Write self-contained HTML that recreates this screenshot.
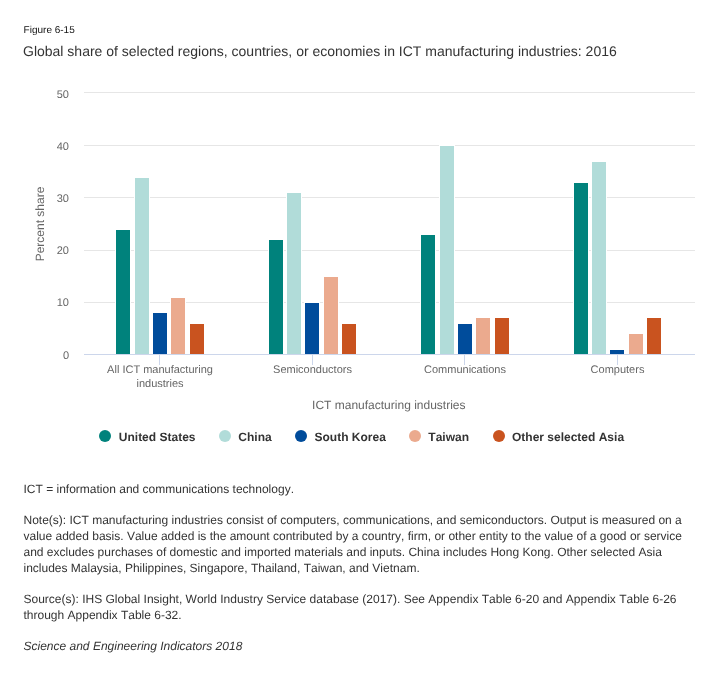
<!DOCTYPE html>
<html><head><meta charset="utf-8"><style>
html,body{margin:0;padding:0;background:#fff;}
body{width:724px;height:677px;position:relative;overflow:hidden;will-change:transform;text-rendering:geometricPrecision;font-kerning:none;font-family:"Liberation Sans",sans-serif;}
.a{position:absolute;white-space:nowrap;line-height:16px;}
.yl{position:absolute;right:655px;font-size:11px;color:#666;line-height:16px;margin-top:-6px;white-space:nowrap;}
.lg{position:absolute;top:429.3px;font-size:12px;font-weight:bold;color:#333;line-height:16px;white-space:nowrap;}
.nt{position:absolute;left:23.5px;font-size:12px;color:#333;line-height:16px;white-space:nowrap;}
.xl{position:absolute;font-size:11px;color:#666;line-height:14px;text-align:center;white-space:nowrap;}
</style></head><body>
<div class="a" style="left:23.6px;top:23px;font-size:10px;color:#111;">Figure 6-15</div>
<div class="a" style="left:23px;top:42px;font-size:14px;color:#333;line-height:18px;">Global share of selected regions, countries, or economies in ICT manufacturing industries: 2016</div>
<svg width="724" height="677" style="position:absolute;left:0;top:0">
<rect x="84" y="92" width="611" height="1" fill="#e6e6e6"/>
<rect x="84" y="145" width="611" height="1" fill="#e6e6e6"/>
<rect x="84" y="197" width="611" height="1" fill="#e6e6e6"/>
<rect x="84" y="250" width="611" height="1" fill="#e6e6e6"/>
<rect x="84" y="302" width="611" height="1" fill="#e6e6e6"/>
<rect x="115" y="229" width="16" height="125" fill="#fff"/><rect x="116" y="230" width="14" height="124" fill="#00827c"/>
<rect x="134" y="177" width="16" height="177" fill="#fff"/><rect x="135" y="178" width="14" height="176" fill="#b1dcd9"/>
<rect x="152" y="312" width="16" height="42" fill="#fff"/><rect x="153" y="313" width="14" height="41" fill="#004c9b"/>
<rect x="170" y="297" width="16" height="57" fill="#fff"/><rect x="171" y="298" width="14" height="56" fill="#ebaa8e"/>
<rect x="189" y="323" width="16" height="31" fill="#fff"/><rect x="190" y="324" width="14" height="30" fill="#c9531f"/>
<rect x="268" y="239" width="16" height="115" fill="#fff"/><rect x="269" y="240" width="14" height="114" fill="#00827c"/>
<rect x="286" y="192" width="16" height="162" fill="#fff"/><rect x="287" y="193" width="14" height="161" fill="#b1dcd9"/>
<rect x="304" y="302" width="16" height="52" fill="#fff"/><rect x="305" y="303" width="14" height="51" fill="#004c9b"/>
<rect x="323" y="276" width="16" height="78" fill="#fff"/><rect x="324" y="277" width="14" height="77" fill="#ebaa8e"/>
<rect x="341" y="323" width="16" height="31" fill="#fff"/><rect x="342" y="324" width="14" height="30" fill="#c9531f"/>
<rect x="420" y="234" width="16" height="120" fill="#fff"/><rect x="421" y="235" width="14" height="119" fill="#00827c"/>
<rect x="439" y="145" width="16" height="209" fill="#fff"/><rect x="440" y="146" width="14" height="208" fill="#b1dcd9"/>
<rect x="457" y="323" width="16" height="31" fill="#fff"/><rect x="458" y="324" width="14" height="30" fill="#004c9b"/>
<rect x="475" y="317" width="16" height="37" fill="#fff"/><rect x="476" y="318" width="14" height="36" fill="#ebaa8e"/>
<rect x="494" y="317" width="16" height="37" fill="#fff"/><rect x="495" y="318" width="14" height="36" fill="#c9531f"/>
<rect x="573" y="182" width="16" height="172" fill="#fff"/><rect x="574" y="183" width="14" height="171" fill="#00827c"/>
<rect x="591" y="161" width="16" height="193" fill="#fff"/><rect x="592" y="162" width="14" height="192" fill="#b1dcd9"/>
<rect x="609" y="349" width="16" height="5" fill="#fff"/><rect x="610" y="350" width="14" height="4" fill="#004c9b"/>
<rect x="628" y="333" width="16" height="21" fill="#fff"/><rect x="629" y="334" width="14" height="20" fill="#ebaa8e"/>
<rect x="646" y="317" width="16" height="37" fill="#fff"/><rect x="647" y="318" width="14" height="36" fill="#c9531f"/>
<rect x="84" y="354" width="611" height="1" fill="#ccd6eb"/>
<rect x="159" y="355" width="1" height="10" fill="#ccd6eb"/>
<rect x="312" y="355" width="1" height="10" fill="#ccd6eb"/>
<rect x="464" y="355" width="1" height="10" fill="#ccd6eb"/>
<rect x="617" y="355" width="1" height="10" fill="#ccd6eb"/>
<circle cx="105" cy="436" r="6" fill="#00827c"/><circle cx="225" cy="436" r="6" fill="#b1dcd9"/><circle cx="301" cy="436" r="6" fill="#004c9b"/><circle cx="415" cy="436" r="6" fill="#ebaa8e"/><circle cx="499" cy="436" r="6" fill="#c9531f"/>
</svg>
<div class="yl" style="top:93px">50</div><div class="yl" style="top:145px">40</div><div class="yl" style="top:197px">30</div><div class="yl" style="top:249px">20</div><div class="yl" style="top:301px">10</div><div class="yl" style="top:354px">0</div>
<div class="a" style="left:39.7px;top:223.5px;font-size:12px;color:#666;transform:translate(-50%,-50%) rotate(-90deg);">Percent share</div>
<div class="xl" style="left:60px;width:200px;top:363px;">All ICT manufacturing<br>industries</div>
<div class="xl" style="left:212.5px;width:200px;top:363px;">Semiconductors</div>
<div class="xl" style="left:365px;width:200px;top:363px;">Communications</div>
<div class="xl" style="left:517.5px;width:200px;top:363px;">Computers</div>
<div class="a" style="left:288.8px;width:200px;text-align:center;top:397px;font-size:12px;color:#666;">ICT manufacturing industries</div>
<div class="lg" style="left:118.8px">United States</div><div class="lg" style="left:238.3px">China</div><div class="lg" style="left:314.5px">South Korea</div><div class="lg" style="left:428.3px">Taiwan</div><div class="lg" style="left:512px">Other selected Asia</div>
<div class="nt" style="top:480.74px;">ICT = information and communications technology.</div><div class="nt" style="top:512.24px;">Note(s): ICT manufacturing industries consist of computers, communications, and semiconductors. Output is measured on a</div><div class="nt" style="top:527.94px;">value added basis. Value added is the amount contributed by a country, firm, or other entity to the value of a good or service</div><div class="nt" style="top:543.74px;">and excludes purchases of domestic and imported materials and inputs. China includes Hong Kong. Other selected Asia</div><div class="nt" style="top:560.24px;">includes Malaysia, Philippines, Singapore, Thailand, Taiwan, and Vietnam.</div><div class="nt" style="top:590.54px;">Source(s): IHS Global Insight, World Industry Service database (2017). See Appendix Table 6-20 and Appendix Table 6-26</div><div class="nt" style="top:606.84px;">through Appendix Table 6-32.</div><div class="nt" style="top:638.24px;font-style:italic;">Science and Engineering Indicators 2018</div>
</body></html>
